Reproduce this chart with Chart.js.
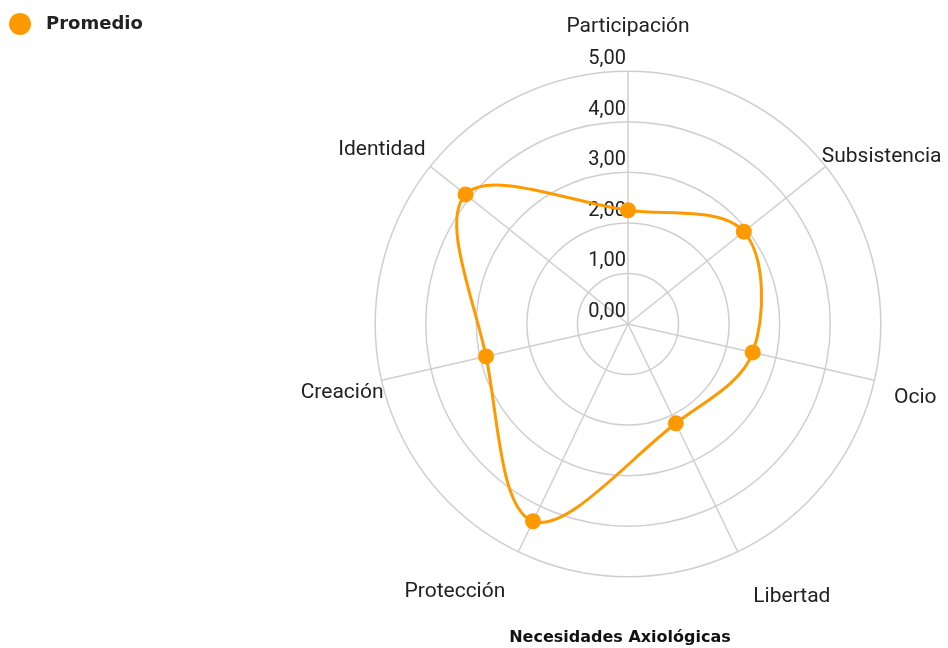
<!DOCTYPE html>
<html>
<head>
<meta charset="utf-8">
<script src="https://cdn.jsdelivr.net/npm/chart.js@4.4.1/dist/chart.umd.min.js"></script>
<style>
  html, body { margin: 0; padding: 0; background: #fff; }
  #wrap { width: 948px; height: 648px; position: relative; }
</style>
</head>
<body>
<div id="wrap"><canvas id="radar"></canvas></div>
<script>
const orange = '#ff9900';
const gridColor = '#cfcfcf';
const textColor = '#222222';

const needs = ['Participación', 'Subsistencia', 'Ocio', 'Libertad', 'Protección', 'Creación', 'Identidad'];
const promedio = [2.25, 2.93, 2.53, 2.18, 4.33, 2.88, 4.11];
const tickLabels = ['0,00', '1,00', '2,00', '3,00', '4,00', '5,00'];

// distance of each axis name from the outer ring
const labelPad = [32, -5, 20, 36, 30, -2, 6];

// round legend marker
const marker = document.createElement('canvas');
marker.width = 22;
marker.height = 22;
const mctx = marker.getContext('2d');
mctx.fillStyle = orange;
mctx.beginPath();
mctx.arc(11, 11, 11, 0, Math.PI * 2);
mctx.fill();

// keeps the legend column wide so the radar sits to the right
const legendColumn = {
  id: 'legendColumn',
  beforeInit(chart) {
    const fit = chart.legend.fit;
    chart.legend.fit = function () {
      fit.call(this);
      this.width = 292;
    };
  }
};

// value labels drawn just left of the vertical axis, above each ring
const ringLabels = {
  id: 'ringLabels',
  beforeDatasetsDraw(chart) {
    const scale = chart.scales.r;
    const ctx = chart.ctx;
    ctx.save();
    ctx.font = '20px Roboto';
    ctx.fillStyle = textColor;
    ctx.textAlign = 'right';
    ctx.textBaseline = 'middle';
    scale.ticks.forEach(t => {
      const p = scale.getPointPositionForValue(0, t.value);
      ctx.fillText(t.label, p.x - 2, p.y - 12);
    });
    ctx.restore();
  }
};

new Chart(document.getElementById('radar'), {
  type: 'radar',
  data: {
    labels: needs,
    datasets: [{
      label: 'Promedio',
      data: promedio,
      borderColor: orange,
      backgroundColor: orange,
      borderWidth: 3,
      fill: false,
      tension: 0.35,
      pointRadius: 8,
      pointHoverRadius: 8,
      pointBorderWidth: 0,
      pointBackgroundColor: orange,
    }],
  },
  options: {
    responsive: true,
    maintainAspectRatio: false,
    animation: false,
    plugins: {
      legend: {
        position: 'left',
        align: 'start',
        title: { display: true, text: '', font: { size: 10 }, padding: 0 },
        labels: {
          usePointStyle: true,
          pointStyleWidth: 34,
          padding: 3,
          color: textColor,
          font: { family: '"DejaVu Sans"', size: 18, weight: 'bold' },
          generateLabels: chart => Chart.defaults.plugins.legend.labels.generateLabels(chart)
            .map(item => ({ ...item, pointStyle: marker, lineWidth: 0 })),
        },
      },
      title: {
        display: true,
        text: 'Necesidades Axiológicas',
        position: 'bottom',
        fullSize: false,
        color: '#111111',
        font: { family: '"DejaVu Sans"', size: 16, weight: 'bold' },
        padding: { top: 7, bottom: 1 },
      },
      tooltip: { enabled: false },
    },
    scales: {
      r: {
        min: 0,
        max: 5,
        ticks: {
          display: false,
          stepSize: 1,
          callback: (v) => tickLabels[Math.round(v)],
        },
        grid: { circular: true, color: gridColor, lineWidth: 1.5 },
        angleLines: { color: gridColor, lineWidth: 1.5 },
        pointLabels: {
          color: textColor,
          font: { family: 'Roboto', size: 21 },
          padding: ctx => labelPad[ctx.index],
        },
      },
    },
  },
  plugins: [legendColumn, ringLabels],
});
</script>
</body>
</html>
